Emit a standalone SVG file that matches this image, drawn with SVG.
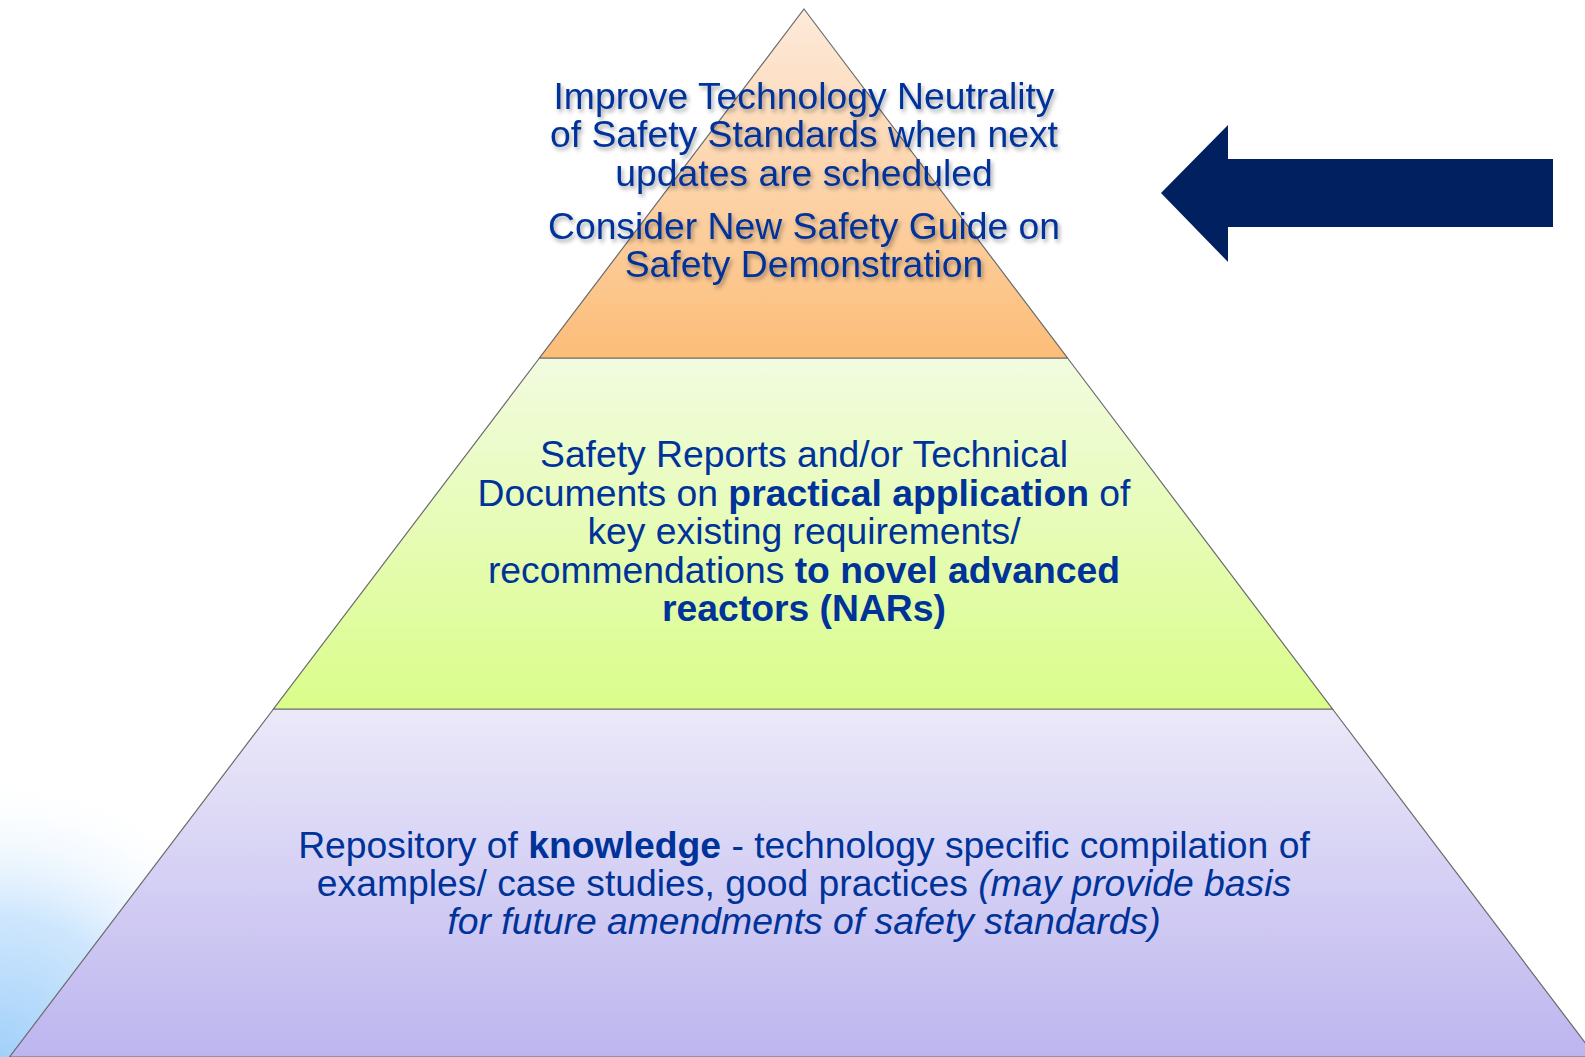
<svg xmlns="http://www.w3.org/2000/svg" width="1585" height="1057" viewBox="0 0 1585 1057">
<defs>
<linearGradient id="gTop" x1="0" y1="9" x2="0" y2="358" gradientUnits="userSpaceOnUse">
<stop offset="0" stop-color="#fdeadb"/>
<stop offset="1" stop-color="#fcbd78"/>
</linearGradient>
<linearGradient id="gMid" x1="0" y1="358" x2="0" y2="709" gradientUnits="userSpaceOnUse">
<stop offset="0" stop-color="#f2fbe0"/>
<stop offset="1" stop-color="#dafd8a"/>
</linearGradient>
<linearGradient id="gBot" x1="0" y1="709" x2="0" y2="1057" gradientUnits="userSpaceOnUse">
<stop offset="0" stop-color="#ebe9f9"/>
<stop offset="1" stop-color="#bdb5ef"/>
</linearGradient>
<radialGradient id="gBg" cx="0" cy="1057" r="285" gradientUnits="userSpaceOnUse">
<stop offset="0" stop-color="#a2d0fa"/>
<stop offset="0.5" stop-color="#cfe7fd"/>
<stop offset="1" stop-color="#ffffff" stop-opacity="0"/>
</radialGradient>
<filter id="shadow" x="-10%" y="-20%" width="120%" height="140%">
<feDropShadow dx="2" dy="3" stdDeviation="2" flood-color="#000" flood-opacity="0.35"/>
</filter>
</defs>
<style>
.tier{stroke:#6b6b6b;stroke-width:1.2}
.t{font-family:"Liberation Sans",Arial,sans-serif;font-size:37.3px;fill:#003399;text-anchor:middle}
.b{font-weight:bold}
.i{font-style:italic}
</style>
<rect x="0" y="0" width="1585" height="1057" fill="#ffffff"/>
<rect x="0" y="700" width="400" height="357" fill="url(#gBg)"/>

<g id="tier-bottom">
<polygon class="tier" points="273.5,709 1332.5,709 1596,1057 9.5,1057" fill="url(#gBot)"/>
<text class="t" x="804" y="857.5">Repository of <tspan class="b">knowledge</tspan> - technology specific compilation of</text>
<text class="t" x="804" y="896">examples/ case studies, good practices <tspan class="i">(may provide basis</tspan></text>
<text class="t i" x="804" y="934">for future amendments of safety standards)</text>
</g>

<g id="tier-middle">
<polygon class="tier" points="539.5,358 1067.5,358 1332.5,709 273.5,709" fill="url(#gMid)"/>
<text class="t" x="804" y="467">Safety Reports and/or Technical</text>
<text class="t" x="804" y="505.5">Documents on <tspan class="b">practical application</tspan> of</text>
<text class="t" x="804" y="544">key existing requirements/</text>
<text class="t" x="804" y="582.5">recommendations <tspan class="b">to novel advanced</tspan></text>
<text class="t b" x="804" y="621">reactors (NARs)</text>
</g>

<g id="tier-top">
<polygon class="tier" points="804,9 1067.5,358 539.5,358" fill="url(#gTop)"/>
<g filter="url(#shadow)">
<text class="t" x="804" y="109">Improve Technology Neutrality</text>
<text class="t" x="804" y="147.3">of Safety Standards when next</text>
<text class="t" x="804" y="185.7">updates are scheduled</text>
<text class="t" x="804" y="239.3">Consider New Safety Guide on</text>
<text class="t" x="804" y="276.7">Safety Demonstration</text>
</g>
</g>

<g id="connectors">
<polygon id="arrow" points="1161,193 1228,125 1228,159 1553,159 1553,227 1228,227 1228,262" fill="#002060"/>
</g>
</svg>
